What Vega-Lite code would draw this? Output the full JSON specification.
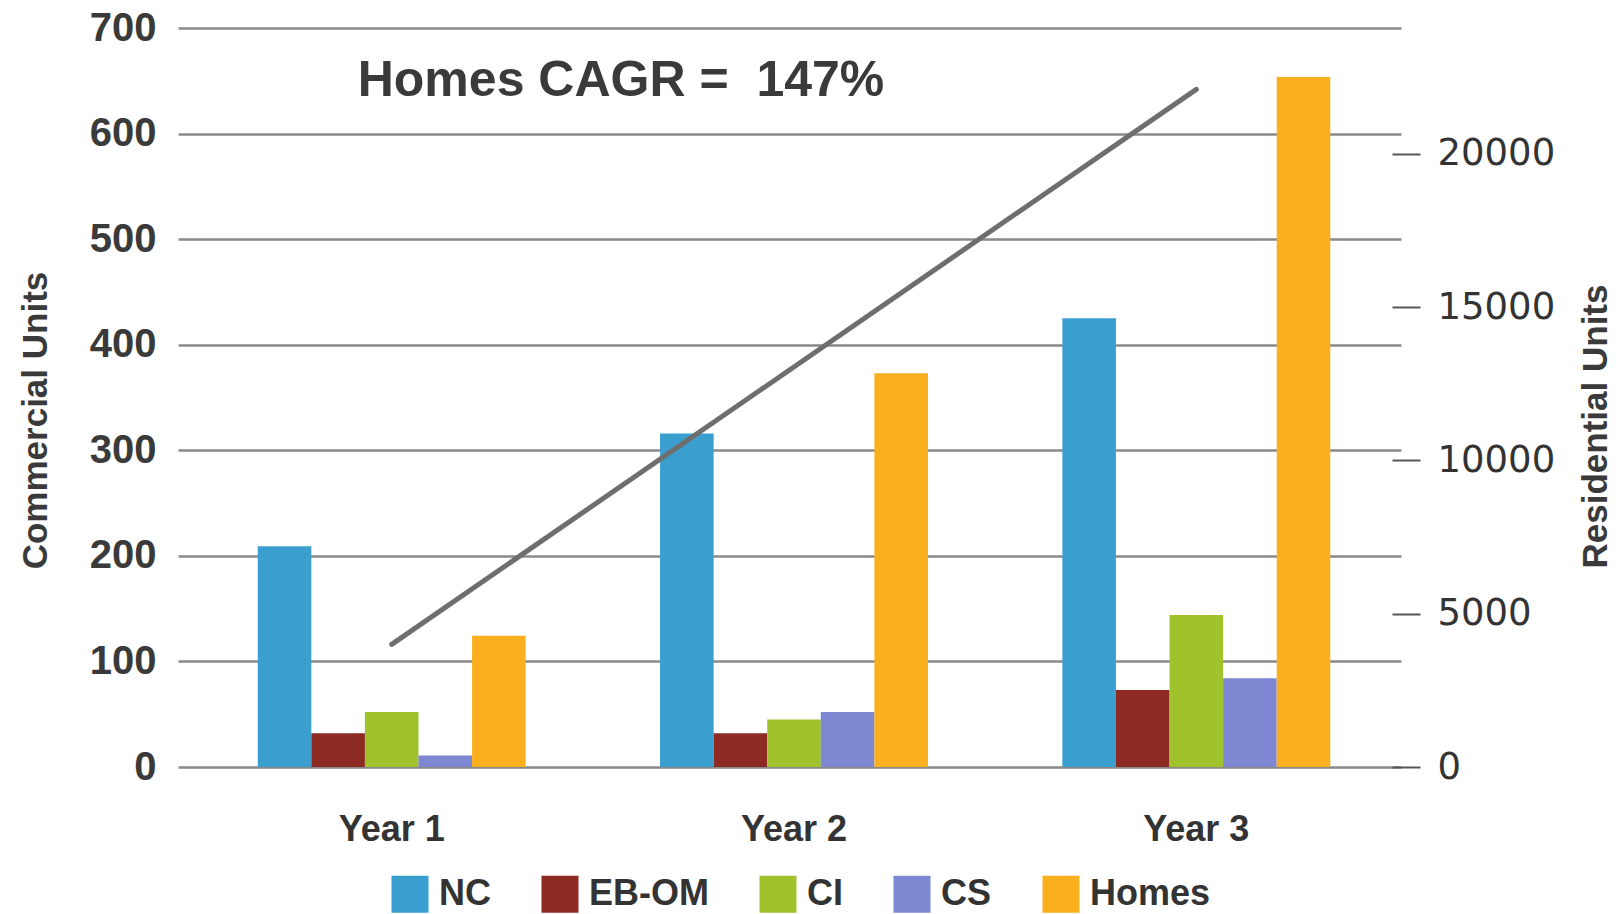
{
  "$schema": "https://vega.github.io/schema/vega-lite/v6.json",
  "width": 1223,
  "height": 739,
  "autosize": "none",
  "padding": {"left": 178, "top": 28, "right": 217, "bottom": 147},
  "background": "white",
  "config": {
    "view": {"stroke": null},
    "axis": {"labelColor": "#3a3a3a", "titleColor": "#3a3a3a"}
  },
  "datasets": {
    "commercial": [
      {"Year": "Year 1", "Series": "NC", "Units": 209},
      {"Year": "Year 1", "Series": "EB-OM", "Units": 32},
      {"Year": "Year 1", "Series": "CI", "Units": 52},
      {"Year": "Year 1", "Series": "CS", "Units": 11},
      {"Year": "Year 2", "Series": "NC", "Units": 316},
      {"Year": "Year 2", "Series": "EB-OM", "Units": 32},
      {"Year": "Year 2", "Series": "CI", "Units": 45},
      {"Year": "Year 2", "Series": "CS", "Units": 52},
      {"Year": "Year 3", "Series": "NC", "Units": 425},
      {"Year": "Year 3", "Series": "EB-OM", "Units": 73},
      {"Year": "Year 3", "Series": "CI", "Units": 144},
      {"Year": "Year 3", "Series": "CS", "Units": 84}
    ],
    "homes": [
      {"Year": "Year 1", "Series": "Homes", "Units": 4280},
      {"Year": "Year 2", "Series": "Homes", "Units": 12840},
      {"Year": "Year 3", "Series": "Homes", "Units": 22500}
    ],
    "trend": [
      {"Year": "Year 1", "Units": 4000},
      {"Year": "Year 3", "Units": 22100}
    ]
  },
  "layer": [
    {
      "layer": [
        {
          "data": {"name": "commercial"},
          "mark": {"type": "bar"},
          "encoding": {
            "x": {
              "field": "Year", "type": "nominal",
              "scale": {"paddingInner": 0.334, "paddingOuter": 0.187, "align": 0.53},
              "axis": {
                "title": null, "labelAngle": 0, "ticks": false, "domain": false,
                "labelFont": "Liberation Sans",
                "labelFontWeight": "bold", "labelFontSize": 36, "labelPadding": 45, "labelColor": "#333333"
              }
            },
            "xOffset": {
              "field": "Series", "type": "nominal",
              "scale": {"domain": ["NC", "EB-OM", "CI", "CS", "Homes"], "paddingInner": 0, "paddingOuter": 0}
            },
            "y": {
              "field": "Units", "type": "quantitative",
              "scale": {"domain": [0, 700], "nice": false},
              "axis": {
                "orient": "left", "values": [0, 100, 200, 300, 400, 500, 600, 700],
                "ticks": false, "domain": false,
                "grid": true, "gridColor": "#8a8a8a", "gridWidth": 2.5, "gridOpacity": 1,
                "labelFont": "Liberation Sans", "labelFontWeight": "bold", "labelFontSize": 40, "labelPadding": 22,
                "title": "Commercial Units",
                "titleFont": "Liberation Sans",
                "titleFontWeight": "bold", "titleFontSize": 35, "titleAngle": 270,
                "titleBaseline": "alphabetic", "titleX": -132, "titleY": 392
              }
            },
            "color": {
              "field": "Series", "type": "nominal",
              "scale": {
                "domain": ["NC", "EB-OM", "CI", "CS", "Homes"],
                "range": ["#3a9fcf", "#8c2a23", "#a0c32d", "#7d87d2", "#faaf1e"]
              },
              "legend": {
                "title": null, "orient": "none", "direction": "horizontal", "columns": 5,
                "legendX": 213, "legendY": 847,
                "symbolType": "square", "symbolSize": 1370, "symbolStrokeWidth": 0, "symbolOpacity": 1,
                "labelFont": "Liberation Sans",
                "labelFontWeight": "bold", "labelFontSize": 36, "labelColor": "#333333",
                "labelOffset": 10, "columnPadding": 50, "labelLimit": 400
              }
            }
          }
        },
        {
          "data": {"values": [{"label": "Homes CAGR =\u00a0 147%"}]},
          "mark": {
            "type": "text", "align": "left", "baseline": "middle", "dx": -34,
            "font": "Liberation Sans",
            "fontWeight": "bold", "fontSize": 50, "color": "#3a3a3a"
          },
          "encoding": {
            "x": {"datum": "Year 1", "type": "nominal"},
            "y": {"datum": 650, "type": "quantitative"},
            "text": {"field": "label", "type": "nominal"}
          }
        }
      ]
    },
    {
      "layer": [
        {
          "data": {"name": "homes"},
          "mark": {"type": "bar"},
          "encoding": {
            "x": {"field": "Year", "type": "nominal"},
            "xOffset": {"field": "Series", "type": "nominal"},
            "y": {
              "field": "Units", "type": "quantitative",
              "scale": {"domain": [0, 24100], "nice": false},
              "axis": {
                "orient": "right", "values": [0, 5000, 10000, 15000, 20000], "format": "d",
                "offset": -9, "ticks": true, "tickSize": 28, "tickWidth": 2, "tickColor": "#555555",
                "domain": false, "grid": false,
                "labelFont": "DejaVu Sans", "labelFontSize": 37, "labelPadding": 17, "labelColor": "#333333",
                "title": "Residential Units",
                "titleFont": "Liberation Sans",
                "titleFontWeight": "bold", "titleFontSize": 35, "titleAngle": 270,
                "titleBaseline": "alphabetic", "titleX": 214, "titleY": 398
              }
            },
            "color": {"field": "Series", "type": "nominal"}
          }
        },
        {
          "data": {"name": "trend"},
          "mark": {"type": "line", "color": "#6e6e6e", "strokeWidth": 5, "strokeCap": "round"},
          "encoding": {
            "x": {"field": "Year", "type": "nominal"},
            "y": {"field": "Units", "type": "quantitative"}
          }
        }
      ]
    }
  ],
  "resolve": {"scale": {"y": "independent"}}
}
